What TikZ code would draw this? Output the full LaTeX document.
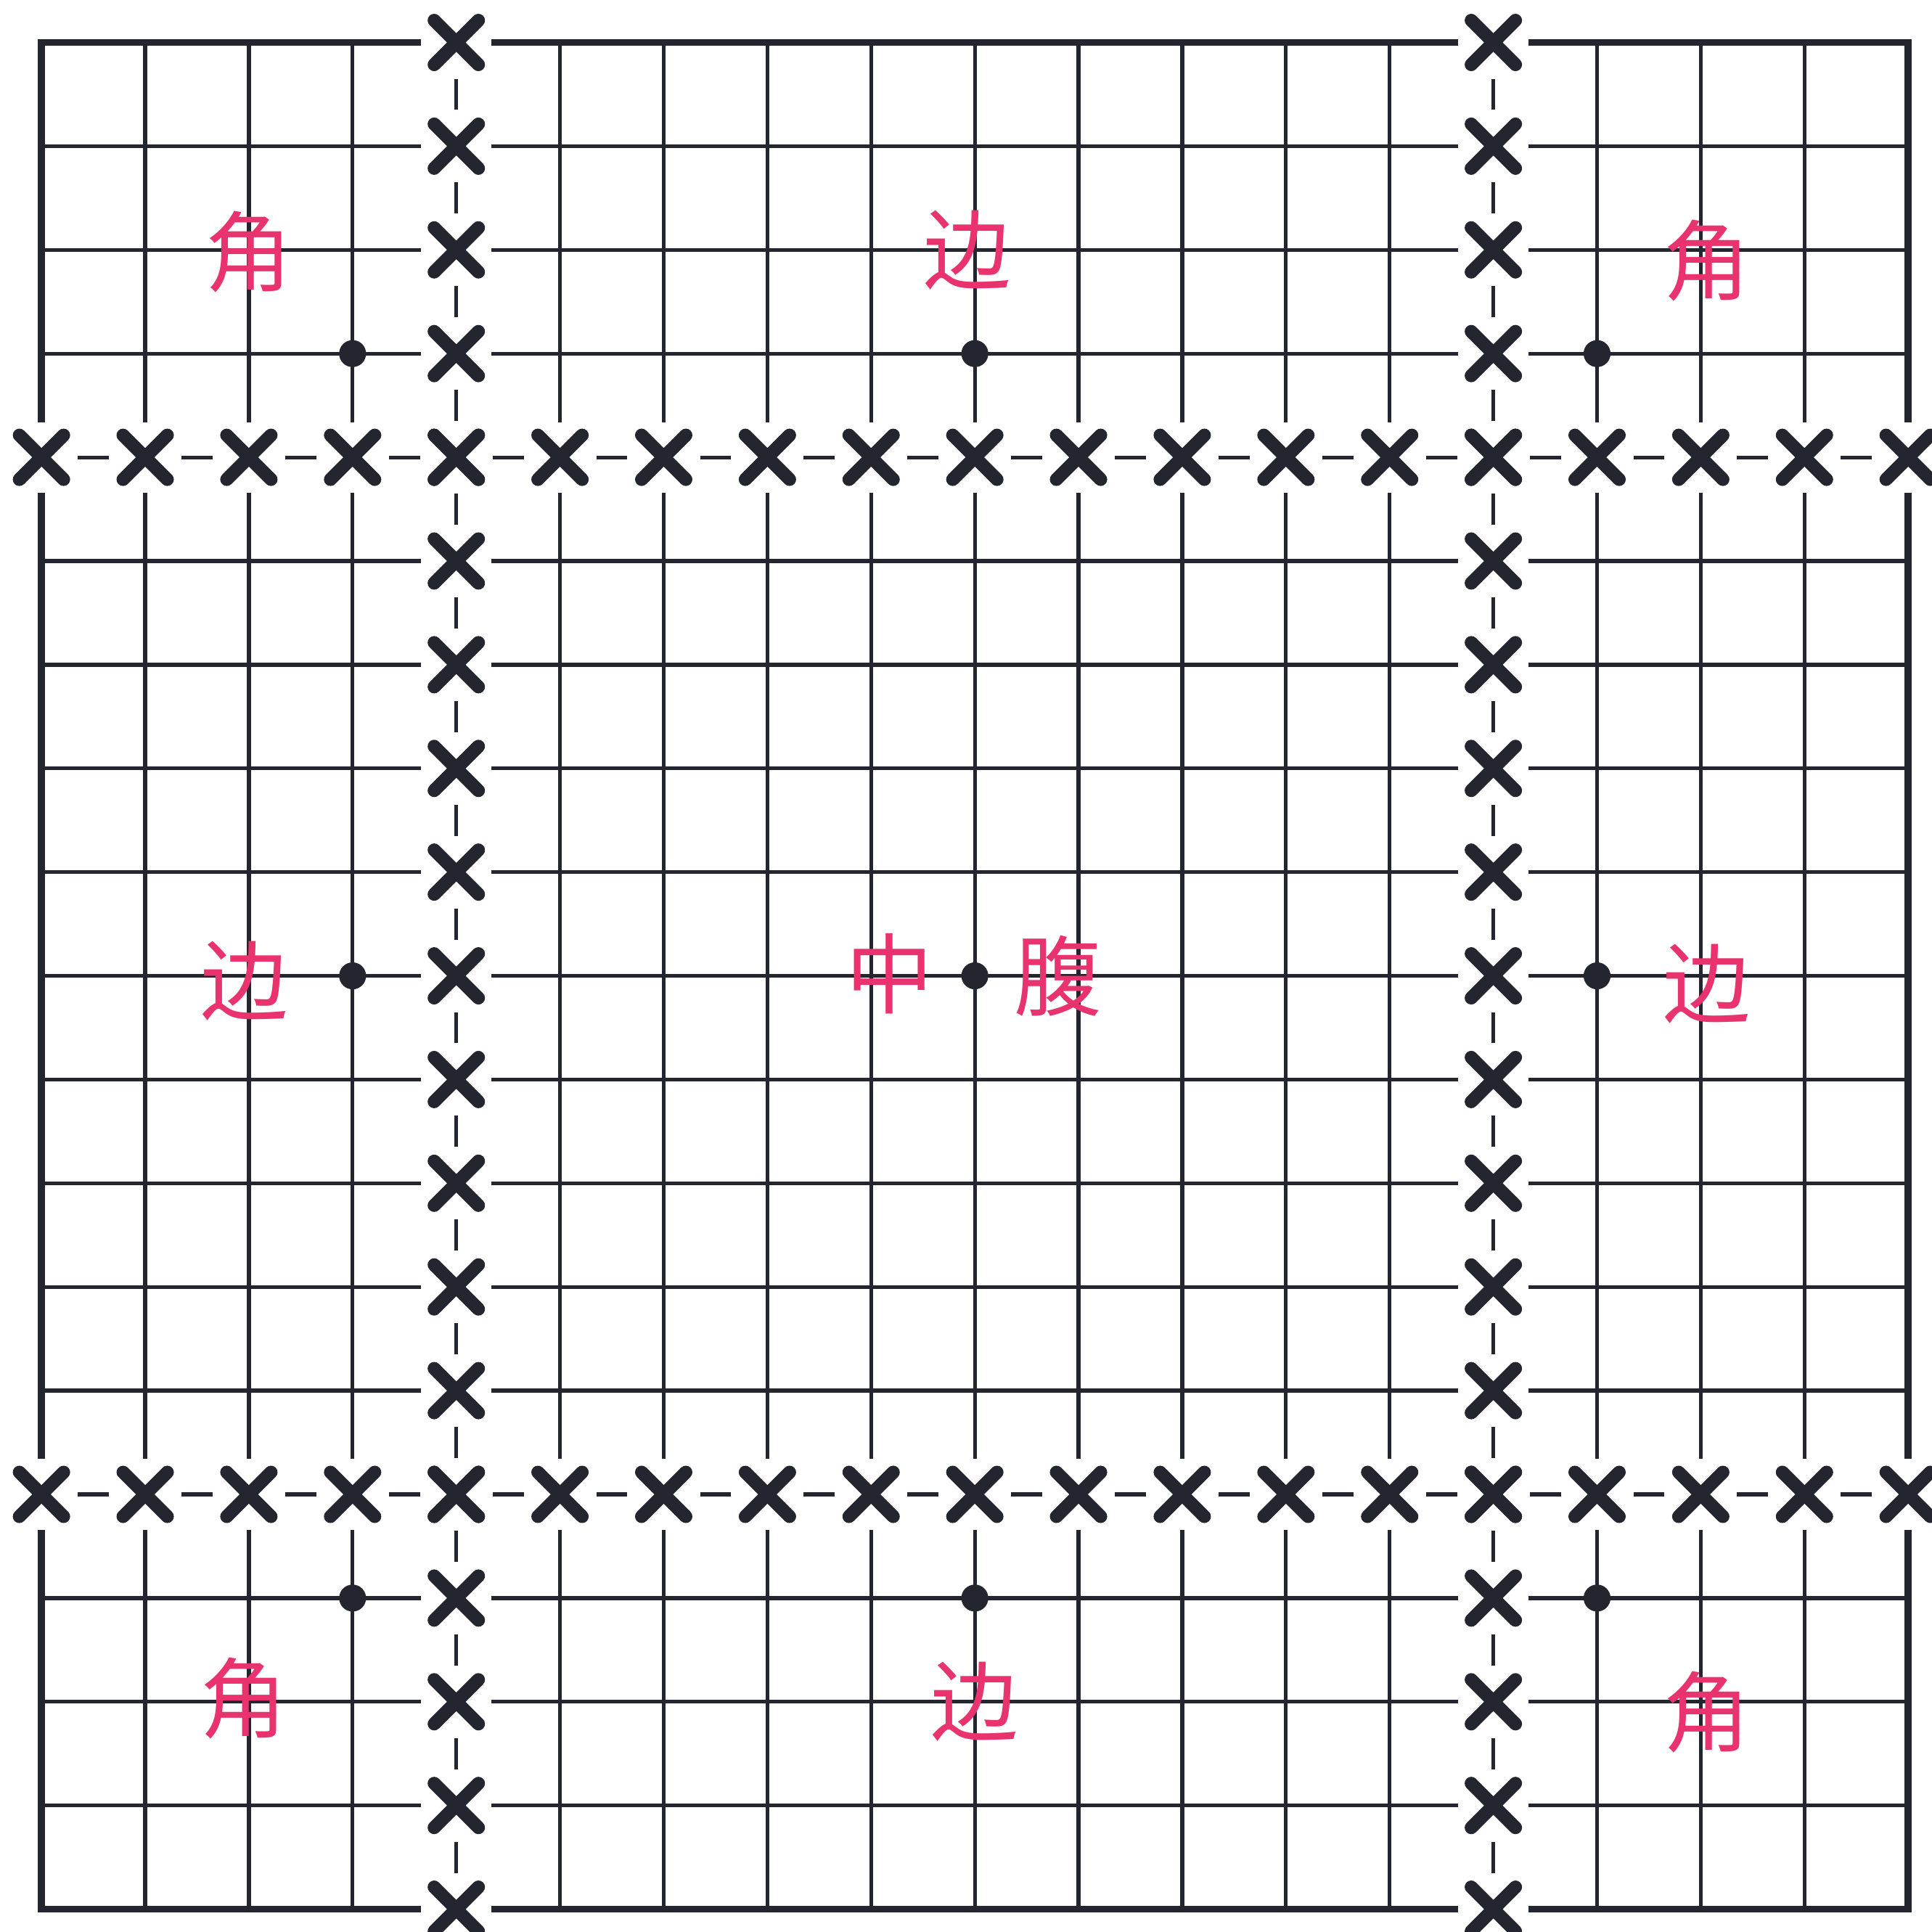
\documentclass[tikz,border=0pt]{standalone}
\usepackage{fontspec}
\newfontfamily\cjk{Noto Sans CJK SC}
\usepackage{tikz}
\usetikzlibrary{shapes.misc}
\definecolor{board}{HTML}{23262E}
\definecolor{zonered}{HTML}{E8336E}

\begin{document}
\begin{tikzpicture}[
        gridline/.style = {line width=1.05pt, draw=board},
        rim/.style      = {line width=1.9pt, draw=board},
        cutline/.style  = {line width=1pt, draw=board},
        xmark/.style    = {cross out, draw=board, line width=3.6pt, line cap=round, minimum size=3.0mm, inner sep=0pt},
        star/.style     = {circle, fill=board, inner sep=0pt, minimum size=2.6mm},
        area/.style     = {text=zonered, font=\cjk\fontsize{24}{24}\selectfont, inner sep=0pt},
    ]
        \useasboundingbox (-0.40,-0.22) rectangle (18.23,18.41);
        \def\g{0.34}

        %---- grid lines ----
        \foreach \i in {1,2,3,5,6,7,8,9,10,11,12,13,15,16,17} {
            \draw[gridline] (0,\i) -- (4-\g,\i) (4+\g,\i) -- (14-\g,\i) (14+\g,\i) -- (18,\i);
            \draw[gridline] (\i,0) -- (\i,4-\g) (\i,4+\g) -- (\i,14-\g) (\i,14+\g) -- (\i,18);
        }

        %---- board edge ----
        \draw[rim] (0,4-\g) |- (4-\g,0);
        \draw[rim] (0,14+\g) |- (4-\g,18);
        \draw[rim] (14+\g,18) -| (18,14+\g);
        \draw[rim] (14+\g,0) -| (18,4-\g);
        \draw[rim] (4+\g,0) -- (14-\g,0) (4+\g,18) -- (14-\g,18);
        \draw[rim] (0,4+\g) -- (0,14-\g) (18,4+\g) -- (18,14-\g);

        %---- dashed fifth lines ----
        \foreach \k in {4,14} {
            \foreach \i in {0,...,17} {
                \draw[cutline] (\i+0.35,\k) -- (\i+0.65,\k);
                \draw[cutline] (\k,\i+0.35) -- (\k,\i+0.65);
            }
            \foreach \i in {0,...,18} {
                \node[xmark] (h\k-\i) at (\i,\k) {};
                \node[xmark] (v\k-\i) at (\k,\i) {};
            }
        }

        %---- star points ----
        \foreach \a in {3,9,15}
            \foreach \b in {3,9,15}
                \node[star] (s\a-\b) at (\a,\b) {};

        %---- labels ----
        \node[area] (jtl) at (2.0,15.98) {角};
        \node[area] (bt)  at (8.93,16.0) {边};
        \node[area] (jtr) at (16.06,15.9) {角};
        \node[area] (bl)  at (1.96,8.95) {边};
        \node[area] (zh)  at (8.18,9.02) {中};
        \node[area] (fu)  at (9.8,9.0) {腹};
        \node[area] (br)  at (16.06,8.92) {边};
        \node[area] (jbl) at (1.95,2.03) {角};
        \node[area] (bb)  at (9.0,2.0) {边};
        \node[area] (jbr) at (16.06,1.9) {角};
    \end{tikzpicture}
\end{document}
